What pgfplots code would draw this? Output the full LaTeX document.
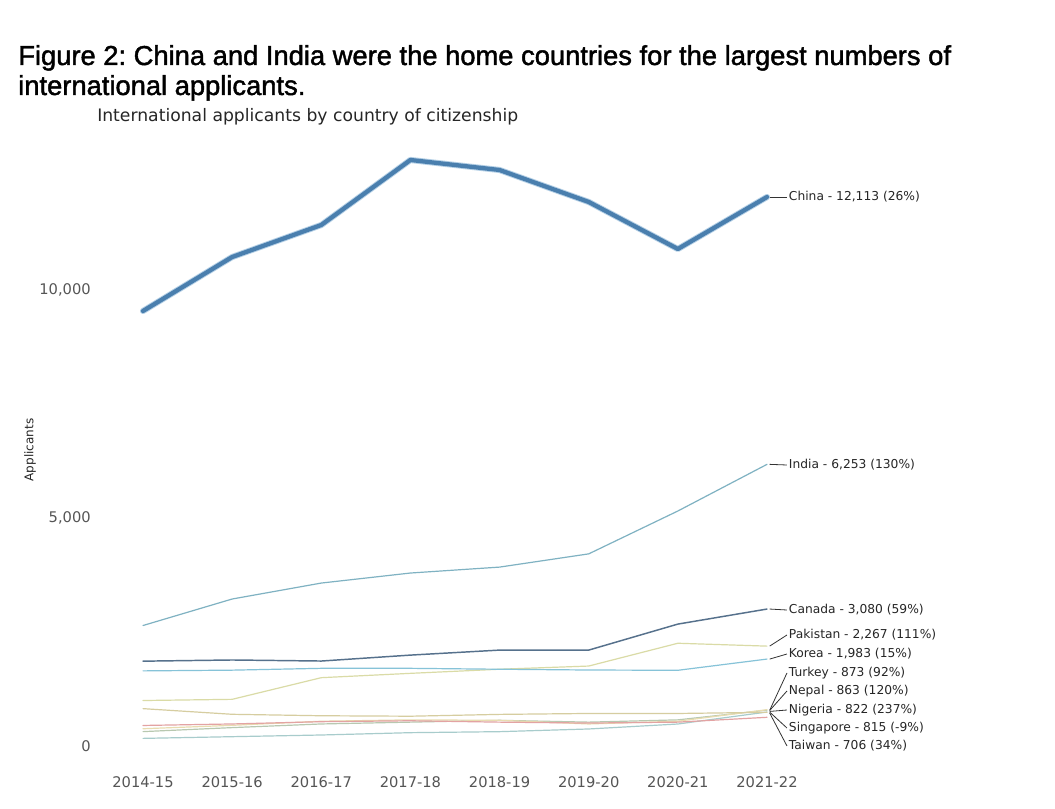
\documentclass[border=0pt]{standalone}
\usepackage{pgfplots}
\pgfplotsset{compat=1.18}
\usepackage{fontspec}
\setmainfont{DejaVu Sans}
\newfontfamily\titlefont[FakeBold=1.6]{Liberation Sans}
\definecolor{cChina}{HTML}{4A7FAE}
\definecolor{cChinaHalo}{HTML}{B5D0E6}
\definecolor{cIndia}{HTML}{7FB2C2}
\definecolor{cCanada}{HTML}{56718C}
\definecolor{cKorea}{HTML}{86C3D8}
\definecolor{cPakistan}{HTML}{DADBA6}
\definecolor{cSingapore}{HTML}{D6CDA0}
\definecolor{cTaiwan}{HTML}{E3A3A3}
\definecolor{cTurkey}{HTML}{E8DCB0}
\definecolor{cNepal}{HTML}{B8C8B0}
\definecolor{cNigeria}{HTML}{A8CCCC}
\definecolor{tickgray}{HTML}{555555}
\begin{document}
\frenchspacing
\begin{tikzpicture}
\useasboundingbox[fill=white] (0,0) rectangle (791.25pt,606.75pt);
\node[anchor=base west, inner sep=0pt, font=\titlefont\fontsize{20.5}{24}\selectfont] at (13.5pt,558pt) {Figure 2: China and India were the home countries for the largest numbers of};
\node[anchor=base west, inner sep=0pt, font=\titlefont\fontsize{20.5}{24}\selectfont] at (13.5pt,535.5pt) {international applicants.};
\node[anchor=base west, inner sep=0pt, font=\fontsize{12.9}{15}\selectfont, text=black!85] at (72.75pt,515.25pt) {International applicants by country of citizenship};
\node[rotate=90, inner sep=0pt, font=\fontsize{9}{11}\selectfont, text=black!85] at (22.5pt,269.25pt) {Applicants};
\begin{axis}[
  at={(107.25pt,44.625pt)}, anchor=south west,
  scale only axis, width=468pt, height=444.6pt,
  xmin=0, xmax=7, ymin=0, ymax=13000,
  clip=false,
  scaled y ticks=false,
  axis line style={draw=none},
  major tick style={draw=none}, minor tick style={draw=none},
  xtick={0,1,2,3,4,5,6,7},
  xticklabels={2014-15,2015-16,2016-17,2017-18,2018-19,2019-20,2020-21,2021-22},
  ytick={0,5000,10000},
  yticklabels={0,{5,000},{10,000}},
  xticklabel style={anchor=center, inner sep=0pt, yshift=-24.4pt, font=\fontsize{11}{13}\selectfont, text=tickgray},
  yticklabel style={anchor=east, inner sep=0pt, xshift=-39pt, yshift=2.6pt, font=\fontsize{11}{13}\selectfont, text=tickgray},
  every axis plot/.append style={line join=round, line cap=round},
]
% lower cluster
\addplot[color=cNigeria, line width=0.9pt] coordinates {(0,244) (1,281) (2,318) (3,369) (4,391) (5,450) (6,559) (7,822)};
\addplot[color=cNepal, line width=0.9pt] coordinates {(0,392) (1,480) (2,560) (3,600) (4,640) (5,600) (6,650) (7,863)};
\addplot[color=cTurkey, line width=0.9pt] coordinates {(0,455) (1,530) (2,620) (3,650) (4,640) (5,560) (6,620) (7,873)};
\addplot[color=cTaiwan, line width=0.9pt] coordinates {(0,527) (1,560) (2,610) (3,630) (4,600) (5,580) (6,600) (7,706)};
\addplot[color=cSingapore, line width=0.9pt] coordinates {(0,896) (1,772) (2,740) (3,730) (4,770) (5,790) (6,790) (7,815)};
\addplot[color=cPakistan, line width=0.9pt] coordinates {(0,1074) (1,1100) (2,1575) (3,1670) (4,1760) (5,1830) (6,2330) (7,2267)};
\addplot[color=cKorea, line width=0.9pt] coordinates {(0,1724) (1,1740) (2,1780) (3,1780) (4,1760) (5,1743) (6,1737) (7,1983)};
\addplot[color=cCanada, line width=1.1pt] coordinates {(0,1937) (1,1963) (2,1940) (3,2070) (4,2180) (5,2180) (6,2750) (7,3080)};
\addplot[color=cIndia, line width=0.9pt] coordinates {(0,2719) (1,3300) (2,3650) (3,3870) (4,4000) (5,4290) (6,5230) (7,6253)};
\addplot[color=cChinaHalo, line width=4.6pt] coordinates {(0,9616) (1,10800) (2,11502) (3,12928) (4,12708) (5,12007) (6,10976) (7,12116)};
\addplot[color=cChina, line width=3.2pt] coordinates {(0,9616) (1,10800) (2,11502) (3,12928) (4,12708) (5,12007) (6,10976) (7,12116)};
% end labels
\begin{scope}[every node/.style={anchor=west, inner sep=1.2pt, font=\fontsize{9.2}{11}\selectfont, text=black!85}]
\draw[black!80, line width=0.6pt] (axis cs:7.03,12116) -- (axis cs:7.224,12116) node {China - 12,113 (26\%)};
\draw[black!80, line width=0.6pt] (axis cs:7.03,6253) -- (axis cs:7.224,6239) node {India - 6,253 (130\%)};
\draw[black!80, line width=0.6pt] (axis cs:7.03,3080) -- (axis cs:7.224,3059) node {Canada - 3,080 (59\%)};
\draw[black!80, line width=0.6pt] (axis cs:7.03,2267) -- (axis cs:7.224,2511) node {Pakistan - 2,267 (111\%)};
\draw[black!80, line width=0.6pt] (axis cs:7.03,1983) -- (axis cs:7.224,2094) node {Korea - 1,983 (15\%)};
\draw[black!80, line width=0.6pt] (axis cs:7.03,860) -- (axis cs:7.224,1678) node {Turkey - 873 (92\%)};
\draw[black!80, line width=0.6pt] (axis cs:7.03,855) -- (axis cs:7.224,1283) node {Nepal - 863 (120\%)};
\draw[black!80, line width=0.6pt] (axis cs:7.03,835) -- (axis cs:7.224,866) node {Nigeria - 822 (237\%)};
\draw[black!80, line width=0.6pt] (axis cs:7.03,820) -- (axis cs:7.224,471) node {Singapore - 815 (-9\%)};
\draw[black!80, line width=0.6pt] (axis cs:7.03,800) -- (axis cs:7.224,77) node {Taiwan - 706 (34\%)};
\end{scope}
\end{axis}
\end{tikzpicture}
\end{document}
